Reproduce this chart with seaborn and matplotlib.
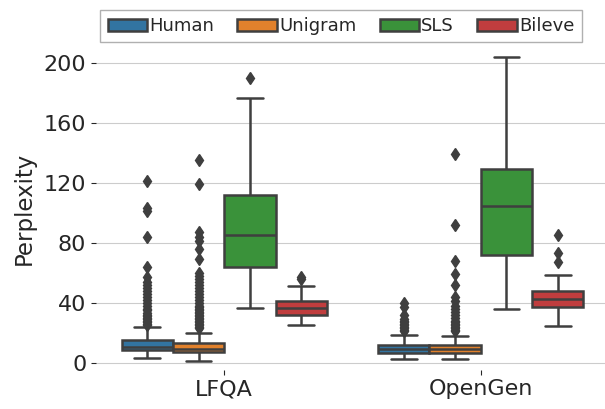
import matplotlib
matplotlib.use("Agg")
import matplotlib.pyplot as plt
import pandas as pd
import seaborn as sns

datasets = ["LFQA", "OpenGen"]
methods = ["Human", "Unigram", "SLS", "Bileve"]

# box summaries, one row per dataset, columns follow `methods`
whis_low = [[3, 1.5, 36.5, 25], [2.4, 2.4, 36, 24.7]]
q1 = [[8.5, 7, 64, 32], [6.5, 6.7, 72, 37]]
median = [[10.5, 9.5, 85, 36.5], [9.3, 9.5, 104.5, 42.4]]
q3 = [[15, 13, 112, 41], [12, 12, 129, 48]]
whis_high = [[24, 20, 176.5, 51], [18.7, 18, 204, 58.4]]

# outlier points
lfqa_human_out = [25, 26, 27, 28, 29, 30, 31, 32, 33, 35, 36, 38, 40, 42, 44,
                  46, 48, 50, 52, 54, 57, 64, 84, 101, 103, 121]
lfqa_unigram_out = [23, 24, 25, 26, 27, 28, 29, 30, 31, 32, 33, 34, 35, 36, 37,
                    38, 40, 42, 44, 46, 48, 50, 52, 54, 56, 58, 60, 69, 76, 81,
                    84, 87, 119, 135]
lfqa_sls_out = [190]
lfqa_bileve_out = [56, 57]
opengen_human_out = [21, 22, 23, 24, 25, 26, 27, 28, 29, 32, 37, 40]
opengen_unigram_out = [21, 22, 23, 24, 25, 26, 27, 28, 30, 32, 34, 36, 38, 41,
                       44, 52, 59, 68, 92, 139]
opengen_sls_out = []
opengen_bileve_out = [67, 73, 85]

outliers = [
    [lfqa_human_out, lfqa_unigram_out, lfqa_sls_out, lfqa_bileve_out],
    [opengen_human_out, opengen_unigram_out, opengen_sls_out, opengen_bileve_out],
]


def expand(lo, a, m, b, hi, out):
    """Sample whose quartiles/whiskers reproduce the given box."""
    k = len(out) + 1
    return [lo] + [a] * k + [m] * k + [b] * k + [hi] + list(out)


rows = []
for i, ds in enumerate(datasets):
    for j, meth in enumerate(methods):
        vals = expand(whis_low[i][j], q1[i][j], median[i][j], q3[i][j],
                      whis_high[i][j], outliers[i][j])
        rows += [{"dataset": ds, "method": meth, "perplexity": v} for v in vals]
df = pd.DataFrame(rows)

sns.set_style("whitegrid", {"xtick.bottom": True, "ytick.left": True})
plt.rcParams["font.family"] = ["DejaVu Sans"]
plt.rcParams["xtick.major.size"] = 3.5
plt.rcParams["ytick.major.size"] = 3.5

fig = plt.figure(figsize=(6.05, 4.09), dpi=100)
ax = fig.add_axes([0.1587, 0.096, 0.848, 0.787])

sns.boxplot(
    data=df, x="dataset", y="perplexity", hue="method", order=datasets,
    hue_order=methods, palette="tab10", saturation=0.75, linecolor="#3f3f3f",
    linewidth=1.8,
    flierprops=dict(marker="d", markersize=6.5, markerfacecolor="#3f3f3f",
                    markeredgecolor="#3f3f3f"),
    ax=ax,
)

ax.set_xlim(-0.5, 1.5)
ax.set_ylim(-4.5, 210)
ax.set_yticks([0, 40, 80, 120, 160, 200])
ax.set_xlabel("")
ax.set_ylabel("Perplexity", fontsize=16.5, labelpad=6)
ax.tick_params(axis="both", labelsize=16)
sns.despine(ax=ax, left=True, bottom=True)

ax.legend(loc="center", bbox_to_anchor=(0.5636, 0.936),
          bbox_transform=fig.transFigure, ncol=4, fontsize=13,
          fancybox=False, edgecolor="#b0b0b0", framealpha=1,
          handlelength=2.2, handletextpad=0.1, columnspacing=1.3)

fig.savefig("out.png", dpi=100)
